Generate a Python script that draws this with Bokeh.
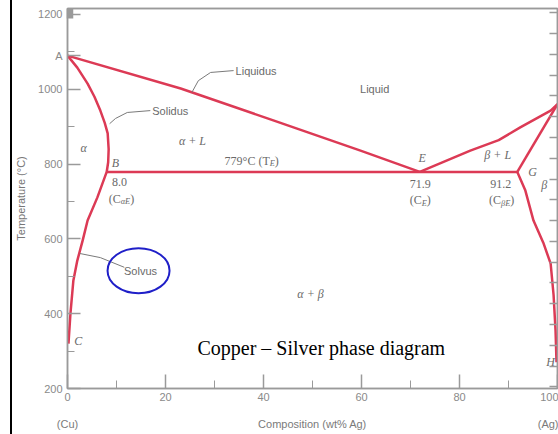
from bokeh.plotting import figure
from bokeh.models import LinearAxis, Range1d, FixedTicker, CustomJSTickFormatter
from bokeh.core.properties import value
from bokeh.embed import file_html
from bokeh.resources import INLINE

# ---------------- data ----------------
# composition in wt% Ag, temperature in degC
liquidus_cu_x = [0, 23.1, 42.0, 59.8, 71.9]
liquidus_cu_t = [1090, 1002, 917, 836, 779]
liquidus_ag_x = [71.9, 82.2, 88.0, 92.4, 98.6, 100]
liquidus_ag_t = [779, 836, 864, 898, 943, 960]
solidus_cu_x = [0, 2.0, 4.1, 5.5, 6.7, 7.6, 8.2, 8.4, 8.3, 8.0]
solidus_cu_t = [1090, 1058, 1015, 980, 943, 910, 882, 840, 805, 779]
solvus_cu_x = [8.0, 6.1, 4.1, 3.1, 2.0, 1.2, 0.6, 0.2]
solvus_cu_t = [779, 711, 649, 596, 542, 489, 400, 320]
solidus_ag_x = [91.8, 100]
solidus_ag_t = [779, 960]
solvus_ag_x = [91.8, 93.4, 95.1, 97.1, 98.6, 99.2, 99.6, 99.8]
solvus_ag_t = [779, 731, 649, 590, 534, 450, 355, 270]
eutectic_x = [8.0, 91.8]
eutectic_t = [779, 779]

x_ticks = [0, 20, 40, 60, 80, 100]
x_minor = [10, 30, 50, 70, 90]
y_ticks = [200, 400, 600, 800, 1000, 1090, 1200]
y_minor = [300, 500, 700, 900, 1100]
y_tick_labels = {1090: "A"}
end_ticks = [0, 50, 100]
end_labels = {0: "(Cu)", 50: "Composition (wt% Ag)", 100: "(Ag)"}
f_ticks = list(range(400, 2300, 100))          # right axis, degF
at_pct_ticks = list(range(0, 101, 10))          # top axis, at% Ag
M_AG, M_CU = 107.87, 63.55
top_ticks = [a * M_AG / (a * M_AG + (100 - a) * M_CU) for a in at_pct_ticks]

RED = "#dc3a55"
GRAY_AX = "#9a9a9a"
GRAY_TXT = "#6a6a6a"
SERIF = "Liberation Serif"
SANS = "Liberation Sans"

p = figure(width=558, height=434, x_range=Range1d(0, 100), y_range=Range1d(200, 1216),
           output_backend="svg", toolbar_location=None,
           min_border_left=67, min_border_right=1, min_border_top=8, min_border_bottom=46)
p.xgrid.visible = False
p.ygrid.visible = False
p.outline_line_color = GRAY_AX
p.outline_line_width = 1.5
p.background_fill_color = "white"
p.border_fill_alpha = 0
p.styles = {"background": "linear-gradient(90deg, #ffffff 0px, #ffffff 10px, #000000 10px, "
                          "#000000 12.5px, #ffffff 12.5px, #ffffff 100%)"}

blank = CustomJSTickFormatter(code="return ''")


def style_axis(ax, tick_in, minor_in):
    ax.axis_line_color = GRAY_AX
    ax.axis_line_width = 1.5
    ax.major_tick_line_color = GRAY_AX
    ax.minor_tick_line_color = GRAY_AX
    ax.major_tick_line_width = 1.5
    ax.major_tick_in = tick_in
    ax.major_tick_out = 0
    ax.minor_tick_in = minor_in
    ax.minor_tick_out = 0
    ax.major_label_text_color = "#8a8a8a"
    ax.major_label_text_font = SANS
    ax.major_label_text_font_size = "11px"
    ax.axis_label_text_color = "#777777"
    ax.axis_label_text_font = SANS
    ax.axis_label_text_font_size = "11px"
    ax.axis_label_text_font_style = "normal"


xa = p.xaxis[0]
xa.ticker = FixedTicker(ticks=x_ticks, minor_ticks=x_minor)
style_axis(xa, 14, 8)
xa.major_label_standoff = 4

xa2 = LinearAxis(ticker=FixedTicker(ticks=end_ticks, minor_ticks=[]))
style_axis(xa2, 0, 0)
xa2.axis_line_alpha = 0
xa2.major_tick_line_alpha = 0
xa2.major_label_overrides = end_labels
xa2.major_label_standoff = 14
xa2.major_label_text_color = "#7a7a7a"
p.add_layout(xa2, "below")

ya = p.yaxis[0]
ya.ticker = FixedTicker(ticks=y_ticks, minor_ticks=y_minor)
style_axis(ya, 13, 7)
ya.major_label_overrides = y_tick_labels
ya.major_label_standoff = 5
ya.axis_label = "Temperature (°C)"
ya.axis_label_standoff = 8

p.extra_y_ranges = {"degF": Range1d(200 * 1.8 + 32, 1216 * 1.8 + 32)}
ra = LinearAxis(y_range_name="degF", ticker=FixedTicker(ticks=f_ticks, minor_ticks=[]),
                formatter=blank)
style_axis(ra, 8, 0)
ra.major_label_text_font_size = "1px"
ra.major_label_standoff = 0
p.add_layout(ra, "right")

ta = LinearAxis(ticker=FixedTicker(ticks=top_ticks, minor_ticks=[]), formatter=blank)
style_axis(ta, 10, 0)
ta.major_label_text_font_size = "1px"
ta.major_label_standoff = 0
p.add_layout(ta, "above")

# ---------------- phase boundaries ----------------
for xs, ts in [(liquidus_cu_x, liquidus_cu_t), (liquidus_ag_x, liquidus_ag_t),
               (solidus_cu_x, solidus_cu_t), (solvus_cu_x, solvus_cu_t),
               (solidus_ag_x, solidus_ag_t), (solvus_ag_x, solvus_ag_t),
               (eutectic_x, eutectic_t)]:
    p.line(xs, ts, line_color=RED, line_width=2.5, line_join="round")

# ---------------- annotations ----------------
def txt(x, y, s, size=12, font=SERIF, style="normal", align="center", color=GRAY_TXT,
        xo=0, yo=0, baseline="middle"):
    p.text([x], [y], [s], text_font=value(font), text_font_size=f"{size}px",
           text_font_style=style, text_align=align, text_baseline=baseline,
           text_color=color, x_offset=xo, y_offset=yo)


W = {"(": .333, ")": .333, "C": .667, "E": .611, "T": .611, "α": .52, "β": .5,
     ".": .25, "°": .4, " ": .25}


def tw(s, size):
    return sum(W.get(c, 0.5) for c in s) * size


def sub_text(x, y, main, sub, tail, size=12):
    ss = size * 0.7
    w = tw(main, size) + tw(sub, ss) + tw(tail, size)
    off = -w / 2
    txt(x, y, main, size, align="left", xo=off)
    off += tw(main, size)
    txt(x, y, sub, ss, style="italic", align="left", xo=off, yo=3)
    off += tw(sub, ss)
    txt(x, y, tail, size, align="left", xo=off)


leader = dict(line_color="#7a7a7a", line_width=1)
p.line([33.9, 29.2, 26.7, 25.4], [1050, 1045, 1023, 992], **leader)
p.line([16.9, 12.2, 9.8, 8.6], [943, 938, 922, 908], **leader)
p.line([11.6, 6.7, 2.5], [524, 550, 561], **leader)

txt(34.3, 1050, "Liquidus", 11, SANS, align="left")
txt(17.3, 943, "Solidus", 11, SANS, align="left")
txt(62.7, 1002, "Liquid", 11, SANS)
txt(14.9, 515, "Solvus", 11, SANS)

txt(3.3, 842, "α", 12, style="italic")
txt(25.5, 863, "α + L", 12, style="italic")
sub_text(37.6, 809, "779°C (T", "E", ")")
txt(9.8, 804, "B", 12, style="italic")
txt(10.6, 751, "8.0", 12)
sub_text(11.0, 708, "(C", "αE", ")")
txt(72.4, 815, "E", 12, style="italic")
txt(72.0, 748, "71.9", 12)
sub_text(72.0, 703, "(C", "E", ")")
txt(87.8, 823, "β + L", 12, style="italic")
txt(88.4, 748, "91.2", 12)
sub_text(88.6, 703, "(C", "βE", ")")
txt(94.9, 778, "G", 12, style="italic")
txt(97.3, 743, "β", 12, style="italic")
txt(98.6, 270, "H", 12, style="italic")
txt(2.2, 328, "C", 12, style="italic")
txt(49.6, 454, "α + β", 12, style="italic")

p.ellipse(x=[14.5], y=[515], width=62, height=45, width_units="screen", height_units="screen",
          fill_alpha=0, line_color="#1f1fc8", line_width=2)

txt(51.8, 307, "Copper – Silver phase diagram", 20, SERIF, align="center", color="black",
    baseline="alphabetic")

open("out.html", "w").write(file_html(p, INLINE))
